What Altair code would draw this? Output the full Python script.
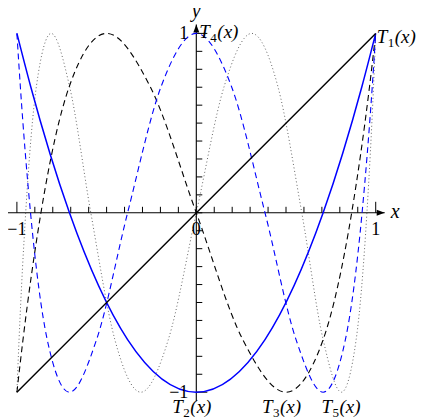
import altair as alt
import pandas as pd

# ---- curve samples (extrema, zeros, and the points in between)
t1_x = [-1.0, 1.0]
t1_y = [-1.0, 1.0]

t2_x = [1.0, 0.924, 0.707, 0.383, 0.0, -0.383, -0.707, -0.924, -1.0]
t2_y = [1.0, 0.707, 0.0, -0.707, -1.0, -0.707, 0.0, 0.707, 1.0]

t3_x = [1.0, 0.966, 0.866, 0.707, 0.5, 0.259, 0.0, -0.259, -0.5, -0.707, -0.866, -0.966, -1.0]
t3_y = [1.0, 0.707, 0.0, -0.707, -1.0, -0.707, 0.0, 0.707, 1.0, 0.707, 0.0, -0.707, -1.0]

t4_x = [1.0, 0.981, 0.924, 0.831, 0.707, 0.556, 0.383, 0.195, 0.0,
        -0.195, -0.383, -0.556, -0.707, -0.831, -0.924, -0.981, -1.0]
t4_y = [1.0, 0.707, 0.0, -0.707, -1.0, -0.707, 0.0, 0.707, 1.0,
        0.707, 0.0, -0.707, -1.0, -0.707, 0.0, 0.707, 1.0]

t5_x = [1.0, 0.988, 0.951, 0.891, 0.809, 0.707, 0.588, 0.454, 0.309, 0.156, 0.0,
        -0.156, -0.309, -0.454, -0.588, -0.707, -0.809, -0.891, -0.951, -0.988, -1.0]
t5_y = [1.0, 0.707, 0.0, -0.707, -1.0, -0.707, 0.0, 0.707, 1.0, 0.707, 0.0,
        -0.707, -1.0, -0.707, 0.0, 0.707, 1.0, 0.707, 0.0, -0.707, -1.0]

# ---- curve labels: T_n(x) placed next to a point of the curve
label_num = ["1", "4", "2", "3", "5"]
label_x = [1.0, 0.0, 0.0, 0.5, 0.809]
label_y = [1.0, 1.0, -1.0, -1.0, -1.0]
label_dx = [1, 3, -24, -24, -20]     # pixel offset of the label's left edge
label_dy = [10, 5, 21, 21, 21]       # pixel offset of the label's baseline

x_tick_values = [-1.0, -0.9, -0.8, -0.7, -0.6, -0.5, -0.4, -0.3, -0.2, -0.1, 0.0,
                 0.1, 0.2, 0.3, 0.4, 0.5, 0.6, 0.7, 0.8, 0.9, 1.0]
y_tick_values = x_tick_values
x_tick_labels = ["−1", "0", "1"]
x_tick_label_pos = [-1.0, 0.0, 1.0]
y_tick_labels = ["1", "−1"]
y_tick_label_pos = [1.0, -1.0]

AX_MIN, AX_MAX = -1.05, 1.05
X_DOMAIN = [-1.0496, 1.2246]
Y_DOMAIN = [-1.1550, 1.1416]
SHORT, LONG = 0.0334, 0.0613
FONT = "Liberation Serif"

xs = alt.Scale(domain=X_DOMAIN, nice=False, zero=False)
ys = alt.Scale(domain=Y_DOMAIN, nice=False, zero=False)


def X(f="x"):
    return alt.X(f, type="quantitative", scale=xs, axis=None)


def Y(f="y"):
    return alt.Y(f, type="quantitative", scale=ys, axis=None)


def curve(xv, yv, color, width, dash=None, interp="monotone"):
    kw = dict(color=color, strokeWidth=width, interpolate=interp, clip=False)
    if dash:
        kw["strokeDash"] = dash
    return alt.Chart(pd.DataFrame({"x": xv, "y": yv})).mark_line(**kw).encode(x=X(), y=Y())


layers = []

# axes
layers.append(alt.Chart(pd.DataFrame({"x": [AX_MIN], "x2": [AX_MAX], "y": [0.0]}))
              .mark_rule(color="black", strokeWidth=1.1)
              .encode(x=X("x"), x2="x2:Q", y=Y("y")))
layers.append(alt.Chart(pd.DataFrame({"x": [0.0], "y": [AX_MIN], "y2": [AX_MAX]}))
              .mark_rule(color="black", strokeWidth=1.1)
              .encode(x=X("x"), y=Y("y"), y2="y2:Q"))
# arrow heads
layers.append(alt.Chart(pd.DataFrame({"x": [AX_MAX], "y": [0.0]}))
              .mark_point(shape="M0,0L-2,-0.75L-2,0.75Z", filled=True, color="black",
                          size=64, opacity=1, strokeWidth=0)
              .encode(x=X(), y=Y()))
layers.append(alt.Chart(pd.DataFrame({"x": [0.0], "y": [AX_MAX]}))
              .mark_point(shape="M0,0L-0.75,2L0.75,2Z", filled=True, color="black",
                          size=64, opacity=1, strokeWidth=0)
              .encode(x=X(), y=Y()))
# ticks
layers.append(alt.Chart(pd.DataFrame({"x": x_tick_values}))
              .transform_calculate(y="0", y2=f"abs(abs(datum.x)-1) < 1e-9 ? {LONG} : {SHORT}")
              .mark_rule(color="black", strokeWidth=1)
              .encode(x=X("x"), y=Y("y"), y2="y2:Q"))
layers.append(alt.Chart(pd.DataFrame({"y": y_tick_values}))
              .transform_calculate(x="0", x2=f"abs(abs(datum.y)-1) < 1e-9 ? {LONG} : {SHORT}")
              .mark_rule(color="black", strokeWidth=1)
              .encode(y=Y("y"), x=X("x"), x2="x2:Q"))

# curves
layers.append(curve(t5_x, t5_y, "#555555", 0.9, [1, 2.5]))
layers.append(curve(t3_x, t3_y, "black", 1.1, [6, 4]))
layers.append(curve(t4_x, t4_y, "#0000ff", 1.1, [6, 4]))
layers.append(curve(t2_x, t2_y, "#0000ff", 1.5))
layers.append(curve(t1_x, t1_y, "black", 1.4, interp="linear"))

# tick labels
layers.append(alt.Chart(pd.DataFrame({"x": x_tick_label_pos, "t": x_tick_labels}))
              .transform_calculate(y="0")
              .mark_text(font=FONT, fontSize=18, align="center", baseline="alphabetic", dy=22, color="black")
              .encode(x=X(), y=Y(), text="t:N"))
layers.append(alt.Chart(pd.DataFrame({"y": y_tick_label_pos, "t": y_tick_labels}))
              .transform_calculate(x="0")
              .mark_text(font=FONT, fontSize=18, align="right", baseline="alphabetic", dx=-8, dy=6, color="black")
              .encode(x=X(), y=Y(), text="t:N"))

# axis names
layers.append(alt.Chart(pd.DataFrame({"x": [AX_MAX], "y": [0.0], "t": ["x"]}))
              .mark_text(font=FONT, fontSize=20, fontStyle="italic", align="left", baseline="middle", dx=6, dy=-1)
              .encode(x=X(), y=Y(), text="t:N"))
layers.append(alt.Chart(pd.DataFrame({"x": [0.0], "y": [AX_MAX], "t": ["y"]}))
              .mark_text(font=FONT, fontSize=20, fontStyle="italic", align="center", baseline="alphabetic", dy=-7)
              .encode(x=X(), y=Y(), text="t:N"))

# curve labels, built as italic T + upright subscript + (x)
for num, lx, ly, ddx, ddy in zip(label_num, label_x, label_y, label_dx, label_dy):
    src = pd.DataFrame({"x": [lx], "y": [ly], "T": ["T"], "n": [num], "p": ["(x)"]})
    layers.append(alt.Chart(src).mark_text(font=FONT, fontSize=19, fontStyle="italic", align="left",
                                           baseline="alphabetic", dx=ddx, dy=ddy, color="black")
                  .encode(x=X(), y=Y(), text="T:N"))
    layers.append(alt.Chart(src).mark_text(font=FONT, fontSize=13, align="left",
                                           baseline="alphabetic", dx=ddx + 11, dy=ddy + 4, color="black")
                  .encode(x=X(), y=Y(), text="n:N"))
    layers.append(alt.Chart(src).mark_text(font=FONT, fontSize=19, fontStyle="italic", align="left",
                                           baseline="alphabetic", dx=ddx + 18, dy=ddy, color="black")
                  .encode(x=X(), y=Y(), text="p:N"))

chart = (alt.layer(*layers)
         .properties(width=408, height=412, autosize="none",
                     padding={"left": 0, "top": 0, "right": 0, "bottom": 0})
         .configure_view(stroke=None))

chart.save("out.html", embed_options={"renderer": "svg", "actions": False})
